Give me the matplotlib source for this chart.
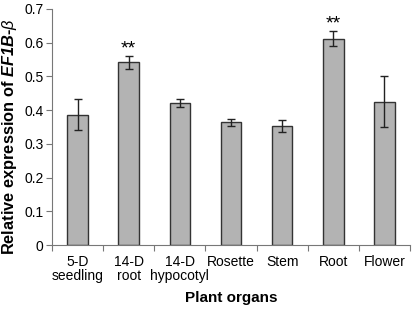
import matplotlib
matplotlib.use("Agg")
import matplotlib.pyplot as plt
import numpy as np

plt.rcParams['font.family'] = ['Liberation Sans', 'DejaVu Sans']
plt.rcParams['mathtext.fontset'] = 'custom'
plt.rcParams['mathtext.rm'] = 'Liberation Sans'
plt.rcParams['mathtext.it'] = 'Liberation Sans:italic'
plt.rcParams['mathtext.bf'] = 'Liberation Sans:bold'
plt.rcParams['mathtext.bfit'] = 'Liberation Sans:italic:bold'

organs = ["5-D\nseedling", "14-D\nroot", "14-D\nhypocotyl", "Rosette", "Stem", "Root", "Flower"]
expression = [0.386, 0.542, 0.420, 0.364, 0.354, 0.612, 0.425]
errors = [0.046, 0.020, 0.012, 0.010, 0.018, 0.023, 0.076]
significance = ["", "**", "", "", "", "**", ""]

fig = plt.figure(figsize=(4.15, 3.09), dpi=100)
ax = fig.add_axes([0.1253, 0.207, 0.8627, 0.764])

x = np.arange(len(organs))
ax.bar(x, expression, width=0.4, color="#b3b3b3", edgecolor="#333333", linewidth=1.0,
       yerr=errors, error_kw=dict(ecolor="#222222", elinewidth=1.0, capsize=3, capthick=1.0))

for xi, v, e, s in zip(x, expression, errors, significance):
    if s:
        ax.text(xi, v + e - 0.006, s, ha="center", va="bottom", fontsize=14)

ax.set_xlim(-0.5, len(organs) - 0.5)
ax.set_ylim(0, 0.7)
ax.set_yticks(np.arange(0, 0.71, 0.1))
ax.set_yticklabels(["0", "0.1", "0.2", "0.3", "0.4", "0.5", "0.6", "0.7"])
ax.set_xticks(np.arange(-0.5, len(organs), 1.0))
ax.set_xticklabels([])
ax.set_xticks(x, minor=True)
ax.set_xticklabels(organs, minor=True, linespacing=1.0)
ax.tick_params(axis="x", which="minor", length=0, pad=7, labelsize=10)
ax.tick_params(axis="x", which="major", length=4, color="#777777")
ax.tick_params(axis="y", length=4, color="#777777", labelsize=10, pad=2)

for side in ["top", "right"]:
    ax.spines[side].set_visible(False)
for side in ["left", "bottom"]:
    ax.spines[side].set_color("#777777")

ax.set_xlabel("Plant organs", fontsize=11, fontweight="bold")
ax.xaxis.set_label_coords(0.5, -0.193)
ax.set_ylabel(r"Relative expression of $\mathbfit{EF1B}$-$\mathit{\beta}$", fontsize=11.8, fontweight="bold")
ax.yaxis.set_label_coords(-0.092, 0.46)

fig.savefig("out.png", dpi=100)
